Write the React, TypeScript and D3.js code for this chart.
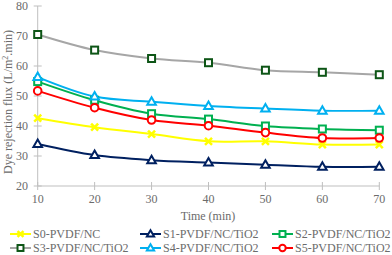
import React from "react";
import * as d3 from "d3";

const times = [10, 20, 30, 40, 50, 60, 70];
const s0 = [42.6, 39.6, 37.3, 34.9, 34.9, 33.8, 33.8];
const s1 = [34.0, 30.3, 28.6, 27.8, 27.1, 26.4, 26.4];
const s2 = [54.8, 48.6, 44.1, 42.3, 40.0, 39.0, 38.6];
const s3 = [70.5, 65.3, 62.5, 61.1, 58.6, 57.9, 57.1];
const s4 = [56.3, 49.8, 48.1, 46.7, 45.8, 45.1, 45.1];
const s5 = [51.7, 46.1, 42.0, 40.1, 37.8, 36.0, 36.0];
const yTicks = [20, 30, 40, 50, 60, 70, 80];
const seriesNames = [
  "S0-PVDF/NC",
  "S1-PVDF/NC/TiO2",
  "S2-PVDF/NC/TiO2",
  "S3-PVDF/NC/TiO2",
  "S4-PVDF/NC/TiO2",
  "S5-PVDF/NC/TiO2",
];

type Sty = { line: string; mark: string; shape: string };
const styles: Sty[] = [
  { line: "#ffff00", mark: "#ffff00", shape: "x" },
  { line: "#002060", mark: "#002060", shape: "tri" },
  { line: "#00b050", mark: "#00b050", shape: "sq" },
  { line: "#a6a6a6", mark: "#0d5516", shape: "sq" },
  { line: "#00b0f0", mark: "#00b0f0", shape: "tri" },
  { line: "#ff0000", mark: "#ff0000", shape: "circ" },
];
const allData = [s0, s1, s2, s3, s4, s5];

function Marker({ shape, color, x, y, s = 1 }: { shape: string; color: string; x: number; y: number; s?: number }) {
  if (shape === "sq")
    return <rect x={x - 3.5 * s} y={y - 3.5 * s} width={7 * s} height={7 * s} fill="#fff" stroke={color} strokeWidth={2} />;
  if (shape === "circ")
    return <circle cx={x} cy={y} r={3.8 * s} fill="#fff" stroke={color} strokeWidth={2} />;
  if (shape === "tri")
    return (
      <path
        d={`M${x},${y - 4.5 * s}L${x + 4.3 * s},${y + 3 * s}L${x - 4.3 * s},${y + 3 * s}Z`}
        fill="#fff"
        stroke={color}
        strokeWidth={2}
      />
    );
  return (
    <path
      d={`M${x - 3.5 * s},${y - 3.5 * s}L${x + 3.5 * s},${y + 3.5 * s}M${x + 3.5 * s},${y - 3.5 * s}L${x - 3.5 * s},${y + 3.5 * s}`}
      stroke={color}
      strokeWidth={2.5}
    />
  );
}

export default function App() {
  const W = 392, H = 255;
  const x = d3.scaleLinear().domain([10, 70]).range([37.7, 379.3]);
  const y = d3.scaleLinear().domain([20, 80]).range([186, 6]);
  const line = d3
    .line<number>()
    .x((_, i) => x(times[i]))
    .y((d) => y(d))
    .curve(d3.curveCatmullRom.alpha(0.5));
  const font = "'Liberation Serif', 'Times New Roman', serif";
  const legendCols = [10, 140, 272];
  const legendRows = [234, 248];
  return (
    <svg width={W} height={H} style={{ position: "absolute", left: 0, top: 0 }} fontFamily={font}>
      <rect width={W} height={H} fill="#fff" />
      <line x1={x(10)} x2={x(10)} y1={y(80)} y2={y(20)} stroke="#bfbfbf" strokeWidth={1} />
      <line x1={x(10)} x2={x(70)} y1={y(20)} y2={y(20)} stroke="#bfbfbf" strokeWidth={1} />
      {yTicks.map((t) => (
        <g key={"y" + t}>
          <line x1={x(10) - 4} x2={x(10) + 4} y1={y(t)} y2={y(t)} stroke="#bfbfbf" />
          <text x={28} y={y(t)} dy="0.35em" textAnchor="end" fontSize={12} fill="#6b6b6b">
            {t}
          </text>
        </g>
      ))}
      {times.map((t) => (
        <g key={"x" + t}>
          <line x1={x(t)} x2={x(t)} y1={y(20) - 4} y2={y(20) + 4} stroke="#bfbfbf" />
          <text x={x(t)} y={y(20) + 17} textAnchor="middle" fontSize={12} fill="#6b6b6b">
            {t}
          </text>
        </g>
      ))}
      <text x={208} y={220} textAnchor="middle" fontSize={12} fill="#6b6b6b">
        Time (min)
      </text>
      <text
        transform={`translate(12,102) rotate(-90)`}
        textAnchor="middle"
        fontSize={12}
        fill="#6b6b6b"
      >
        Dye rejection flux (L/m<tspan dy="-4" fontSize={8}>2</tspan>
        <tspan dy="4">.min)</tspan>
      </text>
      {allData.map((d, si) => (
        <path key={"l" + si} d={line(d) || ""} fill="none" stroke={styles[si].line} strokeWidth={2} />
      ))}
      {allData.map((d, si) => (
        <g key={"m" + si}>
          {d.map((v, i) => (
            <Marker key={i} shape={styles[si].shape} color={styles[si].mark} x={x(times[i])} y={y(v)} />
          ))}
        </g>
      ))}
      {seriesNames.map((n, si) => {
        const lx = legendCols[si % 3];
        const ly = legendRows[Math.floor(si / 3)];
        return (
          <g key={"lg" + si}>
            <line x1={lx} x2={lx + 21} y1={ly} y2={ly} stroke={styles[si].line} strokeWidth={2} />
            <Marker shape={styles[si].shape} color={styles[si].mark} x={lx + 10.5} y={ly} s={0.85} />
            <text x={lx + 23} y={ly} dy="0.35em" fontSize={12} fill="#6b6b6b">
              {n}
            </text>
          </g>
        );
      })}
    </svg>
  );
}
